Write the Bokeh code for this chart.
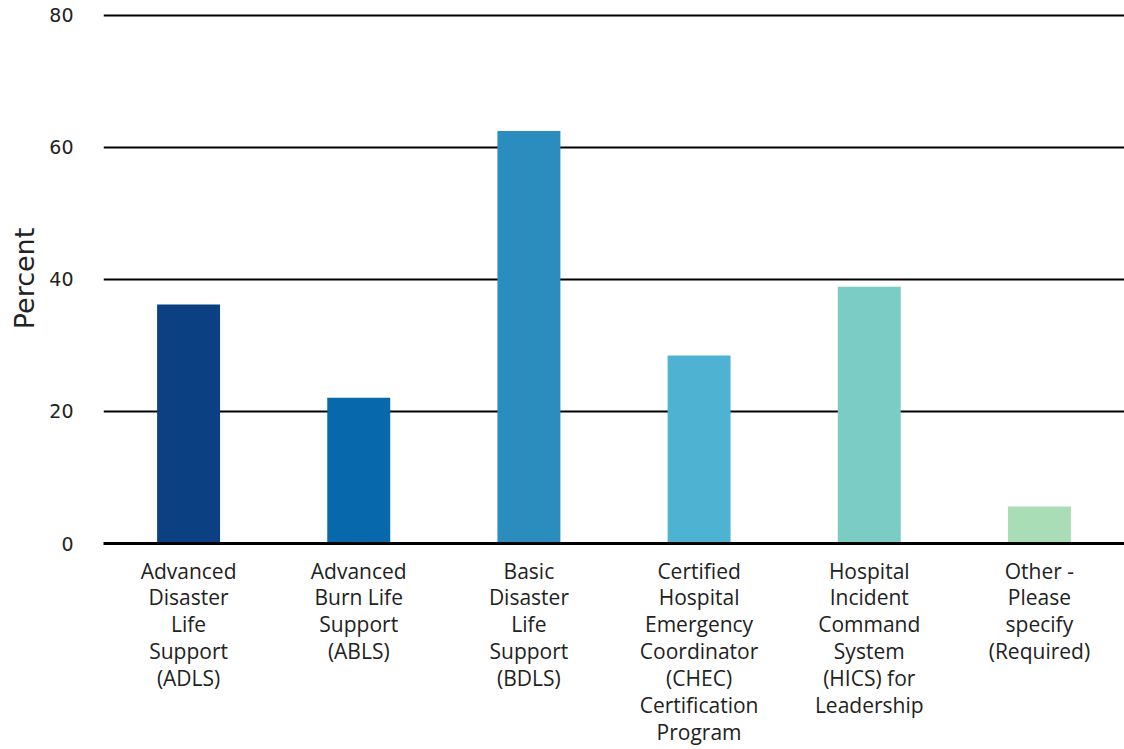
from bokeh.plotting import figure
from bokeh.models import FactorRange, ColumnDataSource, Range1d
from bokeh.embed import file_html
from bokeh.resources import INLINE

categories = [
    "Advanced\nDisaster\nLife\nSupport\n(ADLS)",
    "Advanced\nBurn Life\nSupport\n(ABLS)",
    "Basic\nDisaster\nLife\nSupport\n(BDLS)",
    "Certified\nHospital\nEmergency\nCoordinator\n(CHEC)\nCertification\nProgram",
    "Hospital\nIncident\nCommand\nSystem\n(HICS) for\nLeadership",
    "Other -\nPlease\nspecify\n(Required)",
]
percent = [36.2, 22.1, 62.5, 28.5, 38.9, 5.6]
colors = ["#0b4182", "#0868ac", "#2b8cbe", "#4eb3d3", "#7bccc4", "#a8ddb5"]
y_ticks = [0, 20, 40, 60, 80]

src = ColumnDataSource(dict(cat=categories, val=percent, color=colors))

p = figure(
    x_range=FactorRange(factors=categories, range_padding=0),
    y_range=Range1d(0, 80.3),
    frame_width=1021, frame_height=530,
    output_backend="svg", toolbar_location=None,
    min_border_top=13, min_border_right=0, min_border_left=103, min_border_bottom=0,
)
p.outline_line_color = None

p.vbar(x="cat", top="val", width=0.37, color="color", source=src, line_color=None)

p.ygrid.ticker = y_ticks
p.ygrid.grid_line_color = "#000000"
p.ygrid.grid_line_width = 2
p.ygrid.level = "underlay"
p.xgrid.grid_line_color = None

p.yaxis.ticker = y_ticks
p.yaxis.axis_line_color = None
p.yaxis.major_tick_line_color = None
p.yaxis.minor_tick_line_color = None
p.yaxis.major_label_text_font = "DejaVu Sans"
p.yaxis.major_label_text_font_size = "19px"
p.yaxis.major_label_text_color = "#222222"
p.yaxis.major_label_standoff = 24
p.yaxis.axis_label = "Percent"
p.yaxis.axis_label_text_font = "DejaVu Sans"
p.yaxis.axis_label_text_font_size = "27px"
p.yaxis.axis_label_text_font_style = "normal"
p.yaxis.axis_label_text_color = "#222222"
p.yaxis.axis_label_standoff = 6

p.xaxis.axis_line_color = "#000000"
p.xaxis.axis_line_width = 3
p.xaxis.major_tick_line_color = None
p.xaxis.minor_tick_line_color = None
p.xaxis.major_label_text_font = "Open Sans"
p.xaxis.major_label_text_font_size = "21px"
p.xaxis.major_label_text_color = "#222222"
p.xaxis.major_label_text_line_height = 0.96
p.xaxis.major_label_standoff = 7

open("out.html", "w").write(file_html(p, INLINE))
